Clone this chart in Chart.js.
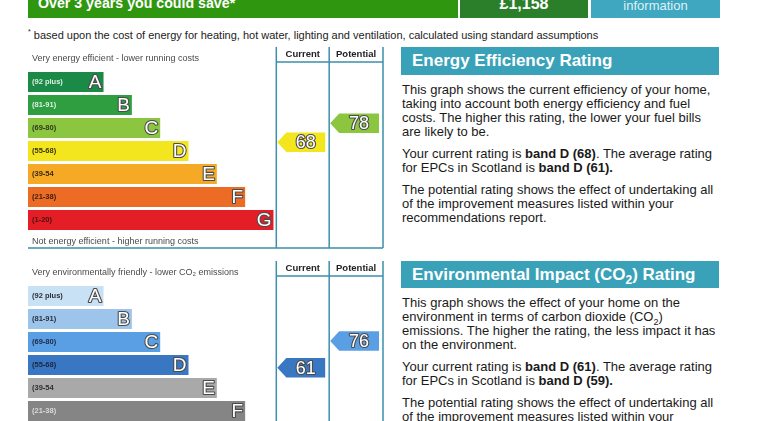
<!DOCTYPE html>
<html>
<head>
<meta charset="utf-8">
<script src="https://cdn.jsdelivr.net/npm/chart.js@4.4.0/dist/chart.umd.min.js"></script>
<style>
  html, body { margin: 0; padding: 0; width: 768px; height: 421px; overflow: hidden; background: #fff; font-family: Arial, "Liberation Sans", sans-serif; }
  .abs { position: absolute; }
  #saveBar { left: 28px; top: -11px; width: 430px; height: 29px; background: #2f960f; color: #fff; font-weight: bold; font-size: 14.2px; line-height: 29px; padding-left: 10px; box-sizing: border-box; }
  #saveAmount { left: 460px; top: -11px; width: 128px; height: 29px; background: #2c7f2a; color: #fff; font-weight: bold; font-size: 16px; line-height: 29px; text-align: center; }
  #saveInfo { left: 591px; top: -11px; width: 129px; height: 29px; background: #3fa7c0; color: #dff1f6; font-size: 13px; line-height: 33px; text-align: center; }
  #note { left: 28px; top: 25px; font-size: 11px; line-height: 13px; color: #222; white-space: nowrap; }
  #note sup { font-size: 7px; }
  .ptitle { left: 401px; width: 318px; background: #3aa2b8; color: #fff; font-weight: bold; font-size: 17px; padding-left: 11px; box-sizing: border-box; white-space: nowrap; }
  .ptitle sub { font-size: 12px; line-height: 0; }
  .ptext { left: 402px; width: 340px; font-size: 13px; line-height: 14px; color: #1a1a1a; white-space: nowrap; }
  .ptext p { margin: 0 0 8px 0; }
  .ptext sub { font-size: 9px; line-height: 0; }
  .wrap { left: 20px; width: 370px; height: 210px; }
</style>
</head>
<body>
<div class="abs" id="saveBar">Over 3 years you could save*</div>
<div class="abs" id="saveAmount">£1,158</div>
<div class="abs" id="saveInfo">information</div>
<div class="abs" id="note"><sup>*</sup> based upon the cost of energy for heating, hot water, lighting and ventilation, calculated using standard assumptions</div>

<div class="abs wrap" style="top:44px"><canvas id="chartEnergy"></canvas></div>
<div class="abs wrap" style="top:258px"><canvas id="chartEnv"></canvas></div>

<div class="abs ptitle" style="top:47px;height:28px;line-height:28px">Energy Efficiency Rating</div>
<div class="abs ptext" style="top:83px">
  <p>This graph shows the current efficiency of your home,<br>taking into account both energy efficiency and fuel<br>costs. The higher this rating, the lower your fuel bills<br>are likely to be.</p>
  <p>Your current rating is <b>band D (68)</b>. The average rating<br>for EPCs in Scotland is <b>band D (61).</b></p>
  <p>The potential rating shows the effect of undertaking all<br>of the improvement measures listed within your<br>recommendations report.</p>
</div>

<div class="abs ptitle" style="top:261px;height:27px;line-height:27px">Environmental Impact (CO<sub>2</sub>) Rating</div>
<div class="abs ptext" style="top:296px">
  <p>This graph shows the effect of your home on the<br>environment in terms of carbon dioxide (CO<sub>2</sub>)<br>emissions. The higher the rating, the less impact it has<br>on the environment.</p>
  <p>Your current rating is <b>band D (61)</b>. The average rating<br>for EPCs in Scotland is <b>band D (59).</b></p>
  <p>The potential rating shows the effect of undertaking all<br>of the improvement measures listed within your<br>recommendations report.</p>
</div>

<script>
const bandLetters = ["A", "B", "C", "D", "E", "F", "G"];
const bandRanges = ["(92 plus)", "(81-91)", "(69-80)", "(55-68)", "(39-54", "(21-38)", "(1-20)"];
const bandLow = [92, 81, 69, 55, 39, 21, 1];
const bandHigh = [100, 91, 80, 68, 54, 38, 20];
const bandLength = [8, 11, 14, 17, 20, 23, 26];
const columnNames = ["Current", "Potential"];
const energyRatings = [68, 78];
const envRatings = [61, 76];

const energyColors = ["#1b8a47", "#2e9e40", "#8cc540", "#f4e61e", "#f6a925", "#ec6b25", "#e31e26"];
const energyRangeText = ["#dcefe2", "#dcefe2", "#2e3a1e", "#3a3510", "#3a2a10", "#3a2010", "#4a1010"];
const envColors = ["#c9e1f5", "#9dc4eb", "#5a9ee3", "#3a77c2", "#a9a9a9", "#858585", "#6e6e6e"];
const envRangeText = ["#2a2f3a", "#2a2f3a", "#1e2a45", "#1a2540", "#2f2f2f", "#dadada", "#e0e0e0"];

function outlined(ctx, text, x, y, size) {
  ctx.font = size + "px Arial";
  ctx.lineJoin = "round";
  ctx.lineWidth = 2.2;
  ctx.strokeStyle = "#4a4a4a";
  ctx.strokeText(text, x, y);
  ctx.fillStyle = "#ffffff";
  ctx.fillText(text, x, y);
}

function bandOf(v) {
  return bandLow.findIndex((lo) => v >= lo);
}

const epcPlugin = {
  id: "epcPanel",
  afterDatasetsDraw(chart, args, o) {
    const { ctx, chartArea: area, scales: { x, y } } = chart;
    const bars = chart.getDatasetMeta(0).data;
    const cols = o.columns.map((v) => x.getPixelForValue(v));
    const top = area.top - 23.5;
    const headLine = area.top - 8.5;
    const bottom = area.bottom + 16.5;

    ctx.save();
    ctx.textBaseline = "middle";

    bars.forEach((bar, i) => {
      const p = bar.getProps(["x", "y", "base"], true);
      ctx.textAlign = "left";
      ctx.font = "bold 7.5px Arial";
      ctx.fillStyle = o.rangeText[i];
      ctx.fillText(bandRanges[i], p.base + 4, p.y);
      ctx.textAlign = "right";
      outlined(ctx, bandLetters[i], p.x - 2, p.y + 1, 19);
    });

    // column frame
    ctx.strokeStyle = "#3d8fab";
    ctx.lineWidth = 1.5;
    ctx.beginPath();
    cols.forEach((c) => {
      ctx.moveTo(c, top);
      ctx.lineTo(c, bottom);
    });
    ctx.moveTo(cols[0], headLine);
    ctx.lineTo(cols[2], headLine);
    ctx.moveTo(area.left, bottom);
    ctx.lineTo(cols[2], bottom);
    ctx.stroke();

    ctx.textAlign = "center";
    ctx.fillStyle = "#222";
    ctx.font = "bold 9.5px Arial";
    columnNames.forEach((name, k) => {
      ctx.fillText(name, (cols[k] + cols[k + 1]) / 2, area.top - 16);
    });

    ctx.textAlign = "left";
    ctx.fillStyle = "#4a4a4a";
    ctx.font = "9px Arial";
    ctx.fillText(o.topText, area.left + 4, area.top - 12);
    ctx.fillText(o.bottomText, area.left + 4, area.bottom + 10);

    // rating arrows
    o.ratings.forEach((v, k) => {
      const b = bandOf(v);
      const idx = b - 0.5 + (bandHigh[b] + 1 - v) / (bandHigh[b] - bandLow[b] + 1);
      const cy = y.getPixelForValue(idx) + 1;
      const tip = cols[k] + 1;
      const right = cols[k + 1] - 4;
      const h = 19.5;
      ctx.beginPath();
      ctx.moveTo(tip, cy);
      ctx.lineTo(tip + 9, cy - h / 2);
      ctx.lineTo(right, cy - h / 2);
      ctx.lineTo(right, cy + h / 2);
      ctx.lineTo(tip + 9, cy + h / 2);
      ctx.closePath();
      ctx.fillStyle = o.colors[b];
      ctx.fill();
      ctx.textAlign = "center";
      outlined(ctx, String(v), (tip + 9 + right) / 2, cy + 1, 18);
    });

    ctx.restore();
  }
};

function buildPanel(canvasId, opts) {
  return new Chart(document.getElementById(canvasId), {
    type: "bar",
    data: {
      labels: bandLetters,
      datasets: [
        {
          data: bandLength,
          backgroundColor: opts.colors,
          barPercentage: 0.87,
          categoryPercentage: 1
        }
      ]
    },
    options: {
      indexAxis: "y",
      responsive: true,
      maintainAspectRatio: false,
      animation: false,
      layout: { padding: { left: 8, right: 7, top: 26.5, bottom: 22.5 } },
      scales: {
        x: { display: false, min: 0, max: 37.6 },
        y: { display: false }
      },
      plugins: {
        legend: { display: false },
        tooltip: { enabled: false },
        epcPanel: opts
      }
    },
    plugins: [epcPlugin]
  });
}

buildPanel("chartEnergy", {
  colors: energyColors,
  rangeText: energyRangeText,
  ratings: energyRatings,
  columns: [26.3, 31.9, 37.6],
  topText: "Very energy efficient - lower running costs",
  bottomText: "Not energy efficient - higher running costs"
});

buildPanel("chartEnv", {
  colors: envColors,
  rangeText: envRangeText,
  ratings: envRatings,
  columns: [26.3, 31.9, 37.6],
  topText: "Very environmentally friendly - lower CO\u2082 emissions",
  bottomText: "Not environmentally friendly - higher CO\u2082 emissions"
});
</script>
</body>
</html>
